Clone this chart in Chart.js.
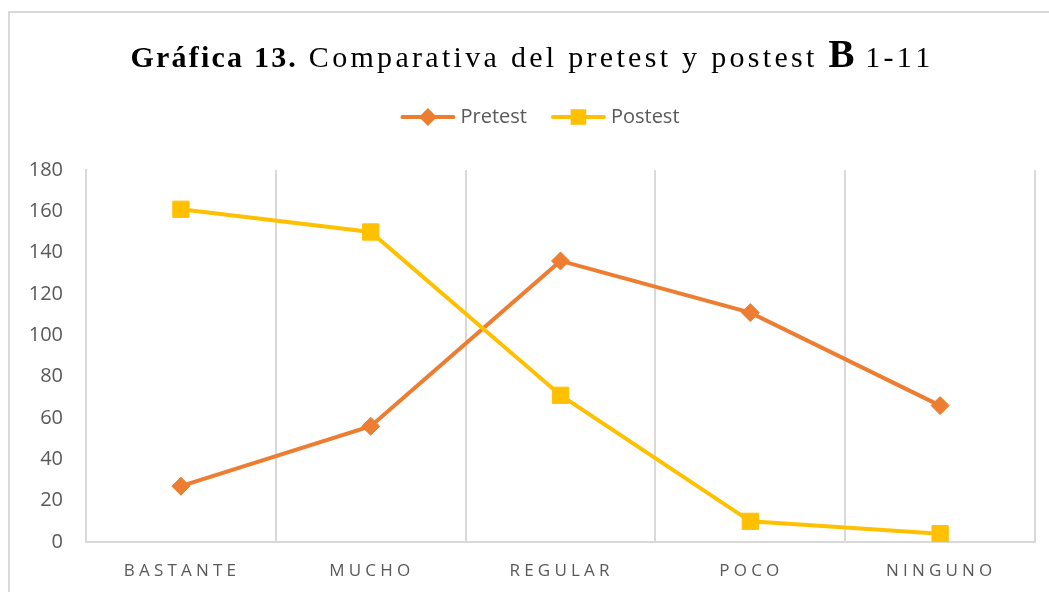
<!DOCTYPE html>
<html>
<head>
<meta charset="utf-8">
<script src="https://cdn.jsdelivr.net/npm/chart.js@4"></script>
<style>
  html, body { margin: 0; padding: 0; background: #fff; }
  #wrap { position: relative; width: 1049px; height: 592px; }
</style>
</head>
<body>
<div id="wrap"><canvas id="chart" width="1049" height="592"></canvas></div>
<script>
// categories and values
const categories = ['BASTANTE', 'MUCHO', 'REGULAR', 'POCO', 'NINGUNO'];
const pretest = [27, 56, 136, 111, 66];
const postest = [161, 150, 71, 10, 4];
const yTicks = [0, 20, 40, 60, 80, 100, 120, 140, 160, 180];

const ORANGE = '#ED7D31';
const YELLOW = '#FFC000';
const GREY_LINE = '#d9d9d9';
const TEXT = '#595959';

// draw text one char at a time so we can letter-space it
function spacedWidth(ctx, text, sp) {
    let w = 0;
    for (const ch of text) w += ctx.measureText(ch).width + sp;
    return w - sp;
}
function drawSpaced(ctx, text, x, y, sp) {
    for (const ch of text) {
        ctx.fillText(ch, x, y);
        x += ctx.measureText(ch).width + sp;
    }
    return x;
}

// title is mixed bold / regular / big B, so it's drawn by hand
const titleParts = [
    { text: 'Gráfica 13.', font: 'bold 30px "Liberation Serif"', sp: 2.2 },
    { text: ' Comparativa del pretest y postest ', font: '30px "Liberation Serif"', sp: 3.3 },
    { text: 'B', font: 'bold 39px "Liberation Serif"', sp: 0 },
    { text: ' 1-11', font: '30px "Liberation Serif"', sp: 3.3 }
];

const decorPlugin = {
    id: 'decor',
    beforeDraw(chart) {
        const ctx = chart.ctx;
        ctx.save();
        ctx.fillStyle = '#fff';
        ctx.fillRect(0, 0, chart.width, chart.height);
        // outer chart frame (right/bottom edges fall off the picture)
        ctx.strokeStyle = GREY_LINE;
        ctx.lineWidth = 2;
        ctx.strokeRect(9, 12, chart.width + 50, chart.height + 50);
        ctx.restore();
    },
    afterDraw(chart) {
        const ctx = chart.ctx;
        const xScale = chart.scales.x;
        ctx.save();

        // title
        let total = 0;
        titleParts.forEach(p => {
            ctx.font = p.font;
            p.w = spacedWidth(ctx, p.text, p.sp);
            total += p.w + p.sp;
        });
        let tx = 532 - total / 2;
        ctx.fillStyle = '#000';
        ctx.textBaseline = 'alphabetic';
        titleParts.forEach(p => {
            ctx.font = p.font;
            drawSpaced(ctx, p.text, tx, 67, p.sp);
            tx += p.w + p.sp;
        });

        // legend: line with marker in the middle, like the office style
        const items = [
            { label: 'Pretest', color: ORANGE, style: 'rectRot', r: 9 },
            { label: 'Postest', color: YELLOW, style: 'rect', r: 11 }
        ];
        ctx.font = '20px "Open Sans"';
        const lineLen = 55, gap = 5, itemGap = 24;
        let lw = 0;
        items.forEach(it => { it.tw = ctx.measureText(it.label).width; lw += lineLen + gap + it.tw; });
        lw += itemGap * (items.length - 1);
        let lx = 540 - lw / 2;
        const ly = 117;
        items.forEach(it => {
            ctx.strokeStyle = it.color;
            ctx.lineWidth = 4;
            ctx.lineCap = 'round';
            ctx.beginPath();
            ctx.moveTo(lx + 2, ly);
            ctx.lineTo(lx + lineLen - 2, ly);
            ctx.stroke();
            ctx.fillStyle = it.color;
            Chart.helpers.drawPoint(ctx, { pointStyle: it.style, radius: it.r, borderWidth: 0 }, lx + lineLen / 2, ly);
            ctx.fillStyle = TEXT;
            ctx.textBaseline = 'middle';
            ctx.textAlign = 'left';
            ctx.fillText(it.label, lx + lineLen + gap, ly);
            lx += lineLen + gap + it.tw + itemGap;
        });

        // category labels, letter-spaced
        ctx.font = '17px "Open Sans"';
        ctx.fillStyle = TEXT;
        ctx.textBaseline = 'alphabetic';
        ctx.textAlign = 'left';
        const sp = 4.2;
        categories.forEach((c, i) => {
            const cx = xScale.getPixelForValue(i);
            const w = spacedWidth(ctx, c, sp);
            drawSpaced(ctx, c, cx - w / 2 - 1, 576, sp);
        });
        ctx.restore();
    }
};

const ctx = document.getElementById('chart');

new Chart(ctx, {
    type: 'line',
    data: {
        labels: categories,
        datasets: [
            {
                label: 'Pretest',
                data: pretest,
                borderColor: ORANGE,
                backgroundColor: ORANGE,
                borderWidth: 4,
                pointStyle: 'rectRot',
                pointRadius: 9,
                pointBorderWidth: 1,
                tension: 0,
                order: 2
            },
            {
                label: 'Postest',
                data: postest,
                borderColor: YELLOW,
                backgroundColor: YELLOW,
                borderWidth: 4,
                pointStyle: 'rect',
                pointRadius: 11.5,
                pointBorderWidth: 1,
                tension: 0,
                order: 1
            }
        ]
    },
    options: {
        responsive: false,
        animation: false,
        devicePixelRatio: 1,
        layout: { padding: { top: 170, right: 14, left: 0, bottom: 0 } },
        plugins: {
            legend: { display: false },
            title: { display: false },
            tooltip: { enabled: false }
        },
        scales: {
            x: {
                offset: true,
                grid: {
                    offset: true,
                    color: GREY_LINE,
                    lineWidth: 2,
                    drawTicks: false
                },
                border: { color: GREY_LINE, width: 2 },
                ticks: { display: false },
                afterFit(scale) { scale.height = 50; }
            },
            y: {
                min: 0,
                max: 180,
                afterBuildTicks(scale) { scale.ticks = yTicks.map(v => ({ value: v })); },
                grid: { display: false, drawTicks: false },
                border: { color: GREY_LINE, width: 2 },
                ticks: {
                    color: TEXT,
                    padding: 23,
                    font: { family: 'Open Sans', size: 20 }
                },
                afterFit(scale) { scale.width = 86; }
            }
        }
    },
    plugins: [decorPlugin]
});
</script>
</body>
</html>
